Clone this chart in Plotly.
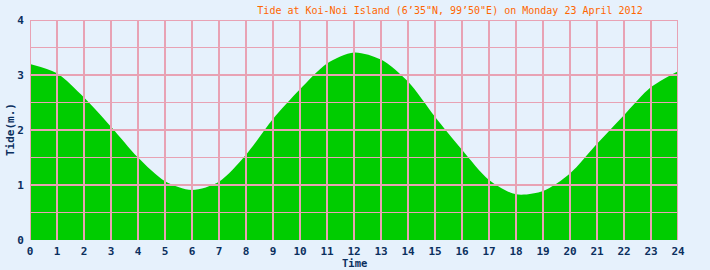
import plotly.graph_objects as go

hours = list(range(0, 25))
tide = [3.20, 3.03, 2.59, 2.06, 1.50, 1.07, 0.91, 1.06, 1.55, 2.20, 2.74, 3.21, 3.41,
        3.28, 2.88, 2.24, 1.64, 1.09, 0.83, 0.89, 1.21, 1.75, 2.27, 2.78, 3.07]
x_ticks = list(range(0, 25))
y_major = [0, 1, 2, 3, 4]
y_minor = [0.5, 1.5, 2.5, 3.5]

title_text = "Tide at Koi-Noi Island (6\u201935\"N, 99\u201950\"E) on Monday 23 April 2012"
x_title = "Time"
y_title = "Tide(m.)"

BG = "#E6F1FC"
PINK = "#E8A2B4"
GREEN = "#00CC00"
NAVY = "#0B2F5E"
MONO = "DejaVu Sans Mono"

fig = go.Figure()
fig.add_trace(go.Scatter(
    x=hours, y=tide, mode="lines", fill="tozeroy",
    line=dict(color=GREEN, width=0, shape="spline", smoothing=0.8),
    fillcolor=GREEN, hoverinfo="skip", showlegend=False,
))

shapes = []
for h in x_ticks:
    shapes.append(dict(type="line", xref="x", yref="y", x0=h, x1=h, y0=0, y1=4,
                       line=dict(color=PINK, width=2), layer="above"))
for v in y_major:
    if v == 0:
        continue
    shapes.append(dict(type="line", xref="x", yref="y", x0=0, x1=24, y0=v, y1=v,
                       line=dict(color=PINK, width=2), layer="above"))
for v in y_minor:
    shapes.append(dict(type="line", xref="x", yref="y", x0=0, x1=24, y0=v, y1=v,
                       line=dict(color=PINK, width=1), layer="above"))

tick_font = dict(family=MONO, size=11, color=NAVY, weight="bold")
label_font = dict(family=MONO, size=11, color=NAVY, weight="bold")
time_font = dict(family=MONO, size=10.5, color=NAVY, weight="bold")

fig.update_layout(
    width=710, height=270,
    margin=dict(l=30, r=32, t=20, b=30),
    paper_bgcolor=BG, plot_bgcolor=BG,
    shapes=shapes,
    title=dict(text=title_text, x=450 / 710, xanchor="center", y=1 - 10 / 270, yanchor="middle",
               font=dict(family=MONO, size=10, color="#FF6600")),
    annotations=[
        dict(text=x_title, xref="paper", yref="paper", x=0.5, y=0, xanchor="center",
             yanchor="middle", yshift=-23, showarrow=False, font=time_font, borderpad=0),
        dict(text=y_title, xref="paper", yref="paper", x=0, y=0.5, xanchor="center",
             yanchor="middle", xshift=-20, textangle=-90, showarrow=False, font=label_font),
    ],
    xaxis=dict(range=[0, 24], tickvals=x_ticks, ticktext=[str(t) for t in x_ticks],
               showgrid=False, zeroline=False, showline=False,
               ticks="outside", ticklen=1, tickcolor=BG, automargin=False,
               tickfont=tick_font),
    yaxis=dict(range=[0, 4], tickvals=y_major, ticktext=[str(t) for t in y_major],
               showgrid=False, zeroline=False, showline=False,
               ticks="outside", ticklen=3, tickcolor=BG, automargin=False,
               tickfont=tick_font, ticklabelstandoff=0),
)

fig.write_html("out.html")
